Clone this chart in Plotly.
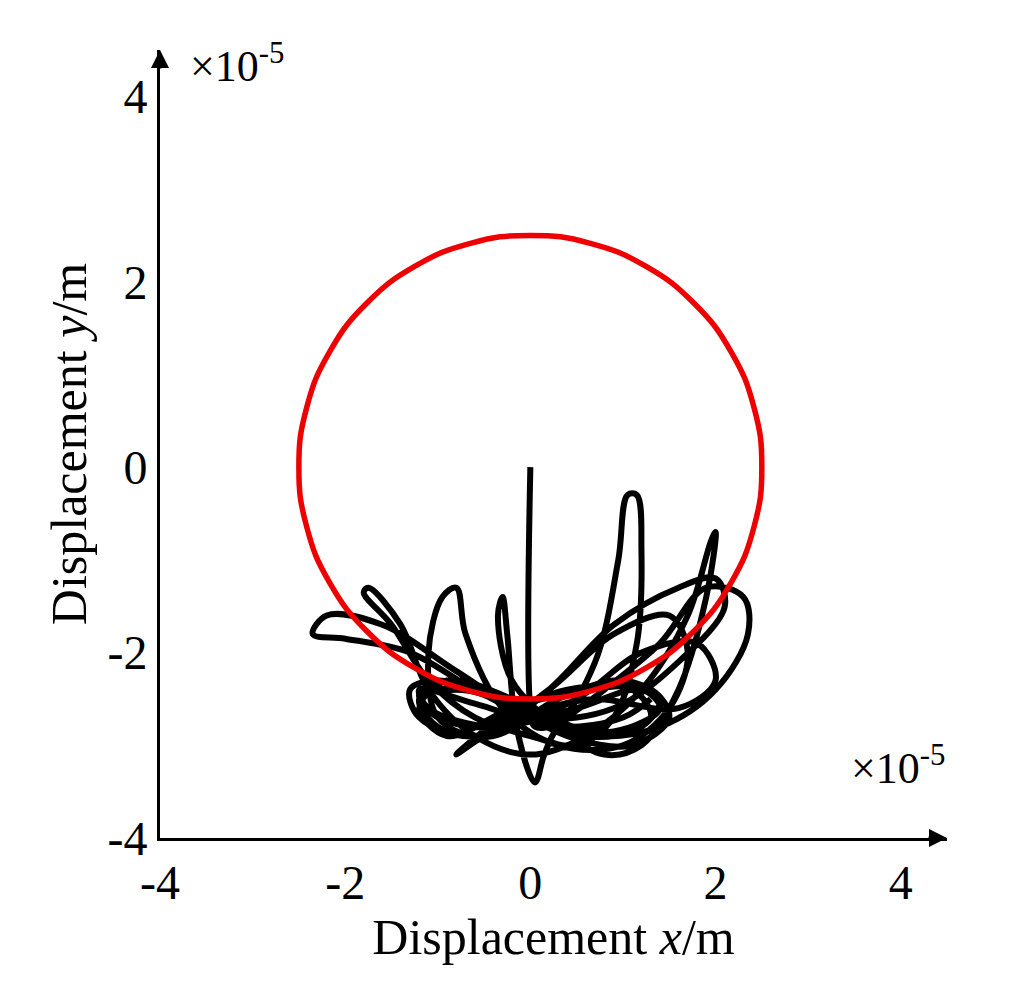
import plotly.graph_objects as go

circle_x = [2.5,2.4148,2.1651,1.7678,1.25,0.6470,0,-0.6470,-1.25,-1.7678,-2.1651,-2.4148,-2.5,-2.4148,-2.1651,-1.7678,-1.25,-0.6470,0,0.6470,1.25,1.7678,2.1651,2.4148,2.5]
circle_y = [0,0.6470,1.25,1.7678,2.1651,2.4148,2.5,2.4148,2.1651,1.7678,1.25,0.6470,0,-0.6470,-1.25,-1.7678,-2.1651,-2.4148,-2.5,-2.4148,-2.1651,-1.7678,-1.25,-0.6470,0]

traj_x = [0,0,0.05,0.3,0.7,0.95,1.05,1.15,1.2,1.15,0.9,0.5,0,-0.6,-1.1,-1.5,-1.8,-1.75,-1.4,-1.1,-0.6,0,0.6,1.2,1.7,1.95,2.0,1.9,1.6,1.2,0.8,0.3,-0.2,-0.35,-0.3,-0.25,-0.15,0.05,0.15,0.3,0.8,1.4,1.9,2.3,2.35,2.0,1.4,0.7,0,-0.8,-1.6,-2.2,-2.35,-2.0,-1.3,-0.6,0.1,0.9,1.6,2.1,2.0,1.6,0.9,0.2,-0.5,-1.0,-1.1,-0.95,-0.8,-0.7,-0.3,0.3,1.0,1.5,1.7,1.5,0.9,0.2,-0.6,-1.2,-1.3,-1.0,-0.4,0.4,1.1,1.5,1.3,0.6,-0.2,-0.9,-1.2,-0.9,-0.2,0.6,1.2,1.4,1.0,0.3,-0.4,-1.0,-1.2,-0.8,0,0.8,1.3,1.1,0.4,-0.3,-0.8,-0.5,0.2,0.7,1.6,2.0,1.8,1.2,0.5,-0.3,-1.0,-1.2,-0.7,0.1,0.9,1.4,1.2,0.5,-0.4,-1.1,-1.2,-0.6,0.3,1.0,1.3]
traj_y = [0,-2.6,-2.8,-2.75,-2.1,-1.0,-0.3,-0.3,-0.9,-1.9,-2.7,-3.0,-2.9,-2.7,-2.3,-1.7,-1.35,-1.3,-1.7,-2.4,-2.9,-3.1,-2.9,-2.4,-1.6,-0.8,-0.7,-1.4,-2.4,-3.0,-3.1,-2.8,-2.3,-1.6,-1.4,-1.8,-2.8,-3.4,-3.1,-2.8,-2.4,-1.9,-1.3,-1.4,-1.8,-2.4,-2.8,-2.9,-2.7,-2.2,-1.7,-1.6,-1.8,-1.85,-2.0,-2.4,-2.7,-2.6,-2.1,-1.5,-1.2,-1.3,-1.7,-2.4,-2.9,-2.7,-2.0,-1.4,-1.3,-1.8,-2.6,-3.0,-3.0,-2.6,-2.0,-1.6,-1.8,-2.4,-2.9,-2.7,-2.4,-2.3,-2.5,-2.9,-3.0,-2.7,-2.4,-2.4,-2.6,-2.9,-2.6,-2.3,-2.5,-2.9,-2.8,-2.5,-2.3,-2.5,-2.9,-2.8,-2.5,-2.4,-2.6,-2.9,-2.7,-2.4,-2.4,-2.7,-3.1,-2.9,-2.6,-2.5,-2.6,-2.3,-1.9,-2.0,-2.5,-2.8,-2.7,-2.45,-2.4,-2.7,-2.85,-2.6,-2.4,-2.6,-2.8,-2.6,-2.4,-2.55,-2.8,-2.7,-2.5]

fig = go.Figure()
fig.add_trace(go.Scatter(x=traj_x, y=traj_y, mode="lines", line=dict(color="black", width=6, shape="spline", smoothing=1.0)))
fig.add_trace(go.Scatter(x=circle_x, y=circle_y, mode="lines", line=dict(color="#ee0000", width=5.5, shape="spline", smoothing=1.3)))

fig.update_layout(
    width=1016, height=991, showlegend=False,
    paper_bgcolor="white", plot_bgcolor="white",
    margin=dict(l=152, r=77, t=42, b=161),
    font=dict(family="Liberation Serif", size=48, color="black"),
    xaxis=dict(range=[-4, 4.5], tickvals=[-4, -2, 0, 2, 4], ticktext=["-4","-2","0","2","4"],
               showgrid=False, zeroline=False, showline=True, linecolor="black", linewidth=3,
               ticks="", ticklen=0, tickfont=dict(size=48),
               title=dict(text="Displacement <i>x</i>/m", font=dict(size=50), standoff=0)),
    yaxis=dict(range=[-4, 4.5], tickvals=[-4, -2, 0, 2, 4], ticktext=["-4","-2","0","2","4"],
               showgrid=False, zeroline=False, showline=True, linecolor="black", linewidth=3,
               ticks="", tickfont=dict(size=48),
               title=dict(text="Displacement <i>y</i>/m", font=dict(size=50), standoff=5)),
)
fig.add_annotation(x=1.0, y=0, xref="paper", yref="paper", ax=-20, ay=0, axref="pixel", ayref="pixel",
                   showarrow=True, arrowhead=2, arrowsize=1.2, arrowwidth=3, arrowcolor="black", text="")
fig.add_annotation(x=0, y=1.0, xref="paper", yref="paper", ax=0, ay=20,
                   showarrow=True, arrowhead=2, arrowsize=1.2, arrowwidth=3, arrowcolor="black", text="")
fig.add_annotation(x=0.035, y=1.02, xref="paper", yref="paper", xanchor="left", yanchor="top", showarrow=False,
                   text="×10<sup>-5</sup>", font=dict(family="Liberation Serif", size=44))
fig.add_annotation(x=1.0, y=0.055, xref="paper", yref="paper", xanchor="right", yanchor="bottom", showarrow=False,
                   text="×10<sup>-5</sup>", font=dict(family="Liberation Serif", size=44))
fig.write_html("out.html")
